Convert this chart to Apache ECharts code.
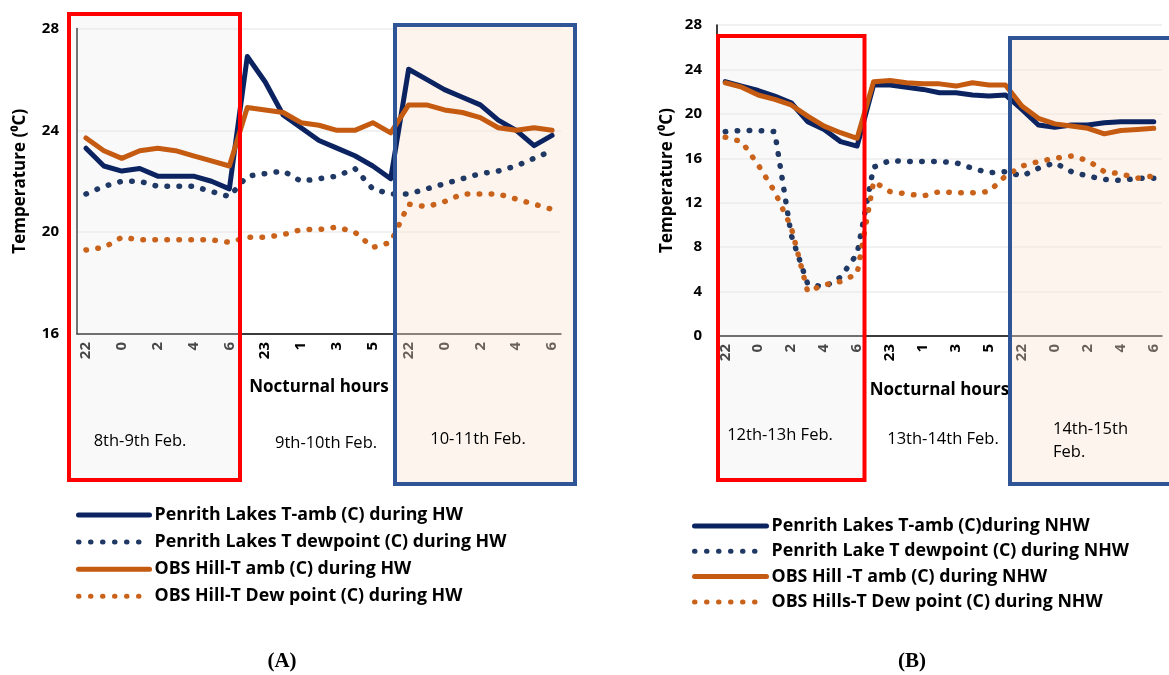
<!DOCTYPE html>
<html>
<head>
<meta charset="utf-8">
<script src="https://cdn.jsdelivr.net/npm/echarts@6/dist/echarts.min.js"></script>
<style>
html,body{margin:0;padding:0;background:#fff;}
#main{width:1169px;height:675px;}
</style>
</head>
<body>
<div id="main"></div>
<script>
// hours on the x axis: three nights, 22h -> 6h
var hours = ['22','23','0','1','2','3','4','5','6',
             '22','23','0','1','2','3','4','5','6',
             '22','23','0','1','2','3','4','5','6'];

// (A) heat wave
var penrithAmbHW = [23.3,22.6,22.4,22.5,22.2,22.2,22.2,22.0,21.7,
                    26.9,25.9,24.6,24.1,23.6,23.3,23.0,22.6,22.1,
                    26.4,26.0,25.6,25.3,25.0,24.4,24.0,23.4,23.8];
var penrithDewHW = [21.5,21.8,22.0,22.0,21.8,21.8,21.8,21.6,21.4,
                    22.2,22.3,22.4,22.0,22.1,22.2,22.5,21.7,21.5,
                    21.5,21.7,21.9,22.1,22.3,22.4,22.6,22.9,23.2];
var obsAmbHW = [23.7,23.2,22.9,23.2,23.3,23.2,23.0,22.8,22.6,
                24.9,24.8,24.7,24.3,24.2,24.0,24.0,24.3,23.9,
                25.0,25.0,24.8,24.7,24.5,24.1,24.0,24.1,24.0];
var obsDewHW = [19.3,19.4,19.8,19.7,19.7,19.7,19.7,19.7,19.6,
                19.8,19.8,19.9,20.1,20.1,20.2,20.0,19.4,19.6,
                21.1,21.0,21.2,21.5,21.5,21.5,21.3,21.1,20.9];

// (B) no heat wave
var penrithAmbNHW = [22.9,22.5,22.1,21.6,21.0,19.3,18.6,17.5,17.1,
                     22.6,22.6,22.4,22.2,21.9,21.9,21.7,21.6,21.7,
                     20.4,19.0,18.8,19.0,19.0,19.2,19.3,19.3,19.3];
var penrithDewNHW = [18.4,18.5,18.5,18.4,9.1,4.7,4.4,5.3,7.4,
                     15.2,15.8,15.7,15.7,15.7,15.6,15.1,14.7,14.8,
                     14.4,15.1,15.6,14.8,14.4,14.1,14.0,14.2,14.2];
var obsAmbNHW = [22.8,22.4,21.7,21.3,20.8,19.8,18.9,18.3,17.8,
                 22.9,23.0,22.8,22.7,22.7,22.5,22.8,22.6,22.6,
                 20.7,19.6,19.1,18.9,18.7,18.2,18.5,18.6,18.7];
var obsDewNHW = [17.9,17.5,15.4,13.0,9.8,4.0,4.6,4.9,5.6,
                 13.9,13.0,12.8,12.6,13.0,12.9,12.9,13.0,14.4,
                 15.3,15.7,16.0,16.2,15.8,14.8,14.6,14.2,14.4];

var namesHW = ['Penrith Lakes T-amb (C) during HW','Penrith Lakes T dewpoint (C) during HW',
               'OBS Hill-T amb (C) during HW','OBS Hill-T Dew point (C) during HW'];
var namesNHW = ['Penrith Lakes T-amb (C)during NHW','Penrith Lake T dewpoint (C) during NHW',
                'OBS Hill -T amb (C) during NHW','OBS Hills-T Dew point (C) during NHW'];
var labelsA = ['8th-9th Feb.','9th-10th Feb.','10-11th Feb.'];
var labelsB = ['12th-13h Feb.','13th-14th Feb.','14th-15th\nFeb.'];

var NAVY = '#0b2461', NAVYDOT = '#1f3864', ORANGE = '#c55a11', ORANGEDOT = '#c9631c';
var FONT = '"Open Sans"';

var chart = echarts.init(document.getElementById('main'));

function xAx(idx){
	return {
		type:'category', gridIndex:idx, data:hours, boundaryGap:true,
		name:'Nocturnal hours', nameLocation:'middle', nameGap: idx==0 ? 45 : 46,
		nameTextStyle:{fontFamily:FONT, fontWeight:'bold', fontSize:17, color:'#000'},
		axisLine:{lineStyle:{color:'#000', width:1.5}},
		axisTick:{show:false},
		axisLabel:{interval:1, rotate:90, margin:8, fontFamily:FONT, fontWeight:'bold', fontSize:15, color:'#000'},
		splitLine:{show:false}
	};
}
function yAx(idx, min, max, gap){
	return {
		type:'value', gridIndex:idx, min:min, max:max, interval:4,
		name:'Temperature (\u2070C)', nameLocation:'middle', nameGap:gap, nameRotate:90,
		nameTextStyle:{fontFamily:FONT, fontWeight:'bold', fontSize:17, color:'#000'},
		axisLine:{show:true, lineStyle:{color:'#000', width:1.5}},
		axisTick:{show:false},
		axisLabel:{margin: idx==0 ? 18 : 15, fontFamily:FONT, fontWeight:'bold', fontSize:15, color:'#000'},
		splitLine:{show:true, lineStyle:{color:'#ececec', width:1.5}}
	};
}
function solid(name, data, color, idx){
	return {name:name, type:'line', xAxisIndex:idx, yAxisIndex:idx, data:data, symbol:'none',
		lineStyle:{color:color, width:5, cap:'round', join:'round'}, itemStyle:{color:color}, z:3};
}
function dotted(name, data, color, idx){
	return {name:name, type:'line', xAxisIndex:idx, yAxisIndex:idx, data:data, symbol:'none',
		lineStyle:{color:color, width:5.5, type:[0.5,11.5], cap:'round'}, itemStyle:{color:color}, z:3};
}
function box(x, y, w, h, fill, stroke){
	// fill under the lines, frame over them
	return [
		{type:'rect', z:1, shape:{x:x, y:y, width:w, height:h}, style:{fill:fill, stroke:null}},
		{type:'rect', z:10, shape:{x:x, y:y, width:w, height:h}, style:{fill:null, stroke:stroke, lineWidth:4}}
	];
}
function note(text, x, y, align){
	return {type:'text', z:11, x:x, y:y, style:{text:text, fill:'#000', font:'16.5px ' + FONT,
		align:align || 'center', verticalAlign:'middle', lineHeight:23}};
}
function legendOf(names, left, top, w, gap){
	return {left:left, top:top, orient:'vertical', padding:0, itemWidth:w, itemHeight:16, itemGap:gap,
		itemStyle:{opacity:0},
		lineStyle:{width:5, cap:'round'},
		textStyle:{fontFamily:FONT, fontWeight:'bold', fontSize:17.8, color:'#000', lineHeight:16},
		data:names};
}

var GRAY = 'rgba(235,235,235,0.3)', PEACH = 'rgba(250,228,212,0.42)';
var RED = '#ff0000', BLUE = '#2f5597';

var graphics = []
	.concat(box(69, 14, 171, 466, GRAY, RED))
	.concat(box(395, 25, 180, 459, PEACH, BLUE))
	.concat(box(718, 36, 146.5, 444, GRAY, RED))
	.concat(box(1010, 38, 200, 446, PEACH, BLUE));
graphics.push(note(labelsA[0], 140, 441));
graphics.push(note(labelsA[1], 326, 443));
graphics.push(note(labelsA[2], 478, 439));
graphics.push(note(labelsB[0], 780, 435));
graphics.push(note(labelsB[1], 943, 439));
graphics.push(note(labelsB[2], 1053, 441, 'left'));
graphics.push({type:'text', z:11, x:282, y:662, style:{text:'(A)', fill:'#000', font:'bold 21px "Liberation Serif"', align:'center', verticalAlign:'middle'}});
graphics.push({type:'text', z:11, x:912, y:662, style:{text:'(B)', fill:'#000', font:'bold 21px "Liberation Serif"', align:'center', verticalAlign:'middle'}});

var option = {
	animation:false,
	grid:[
		{left:77, right:608, top:28.5, bottom:341},
		{left:717, right:7, top:25, bottom:339}
	],
	xAxis:[xAx(0), xAx(1)],
	yAxis:[yAx(0,16,28,48), yAx(1,0,28,41)],
	legend:[
		legendOf(namesHW, 76, 506, 71, 9.1),
		legendOf(namesNHW, 692, 517, 72, 7.3)
	],
	series:[
		solid(namesHW[0], penrithAmbHW, NAVY, 0),
		dotted(namesHW[1], penrithDewHW, NAVYDOT, 0),
		solid(namesHW[2], obsAmbHW, ORANGE, 0),
		dotted(namesHW[3], obsDewHW, ORANGEDOT, 0),
		solid(namesNHW[0], penrithAmbNHW, NAVY, 1),
		dotted(namesNHW[1], penrithDewNHW, NAVYDOT, 1),
		solid(namesNHW[2], obsAmbNHW, ORANGE, 1),
		dotted(namesNHW[3], obsDewNHW, ORANGEDOT, 1)
	],
	graphic:graphics
};
chart.setOption(option);
</script>
</body>
</html>
